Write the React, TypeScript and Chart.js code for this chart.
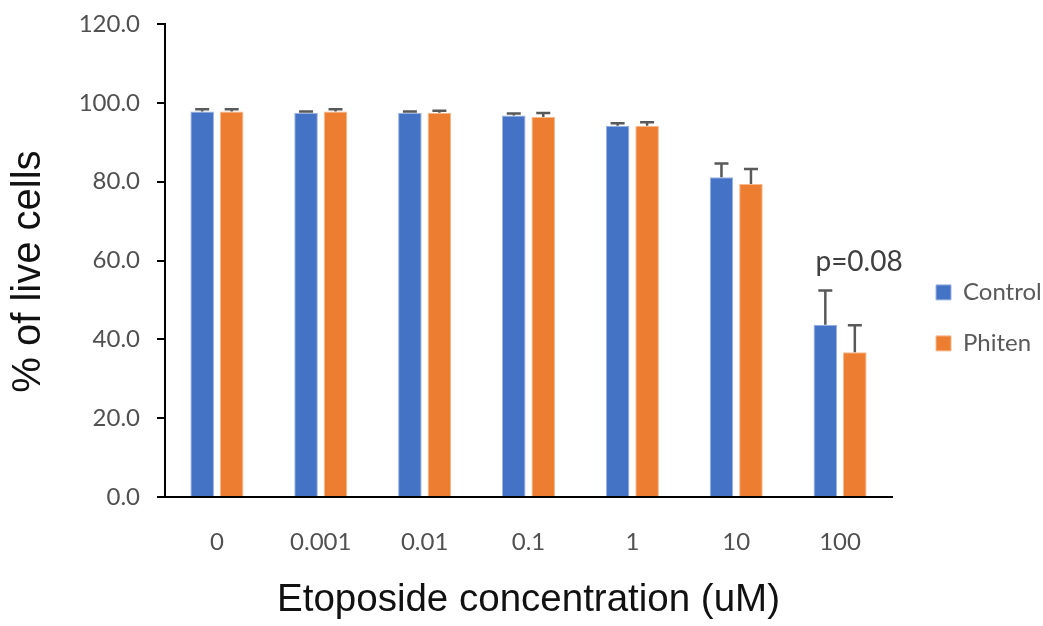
import React, { useEffect, useRef } from 'react';
import { Chart, registerables } from 'chart.js';

Chart.register(...registerables);

const categories = ['0', '0.001', '0.01', '0.1', '1', '10', '100'];
const controlValues = [97.8, 97.5, 97.5, 96.8, 94.2, 81.1, 43.7];
const phitenValues = [97.8, 97.8, 97.5, 96.4, 94.2, 79.4, 36.7];
const controlErrors = [0.6, 0.3, 0.3, 0.5, 0.6, 3.5, 8.7];
const phitenErrors = [0.6, 0.6, 0.5, 1.0, 0.9, 3.8, 6.9];
const seriesNames = ['Control', 'Phiten'];
const yMin = 0;
const yMax = 120;
const yStep = 20;
const pValueText = 'p=0.08';
const pValueCategory = 6;
const pValueLevel = 59.6;

const allErrors = [controlErrors, phitenErrors];

const errorBarPlugin = {
  id: 'errorBars',
  afterDatasetsDraw(chart: any) {
    const ctx = chart.ctx;
    const yScale = chart.scales.y;
    const xScale = chart.scales.x;
    ctx.save();
    chart.data.datasets.forEach((ds: any, di: number) => {
      const meta = chart.getDatasetMeta(di);
      const errs = allErrors[di];
      meta.data.forEach((bar: any, i: number) => {
        const v = ds.data[i] as number;
        const yTop = yScale.getPixelForValue(v + errs[i]);
        const yBase = yScale.getPixelForValue(v);
        const x = bar.x;
        ctx.strokeStyle = '#595959';
        ctx.lineWidth = 2.5;
        ctx.beginPath();
        ctx.moveTo(x, yBase);
        ctx.lineTo(x, yTop);
        ctx.moveTo(x - 7, yTop);
        ctx.lineTo(x + 7, yTop);
        ctx.stroke();
      });
    });
    ctx.font = '28px Lato';
    ctx.fillStyle = '#404040';
    ctx.textAlign = 'center';
    ctx.textBaseline = 'middle';
    ctx.fillText(
      pValueText,
      xScale.getPixelForValue(pValueCategory) + 19,
      yScale.getPixelForValue(pValueLevel)
    );
    ctx.restore();
  },
};

export default function App() {
  const ref = useRef<HTMLCanvasElement>(null);

  useEffect(() => {
    const chart = new Chart(ref.current as HTMLCanvasElement, {
      type: 'bar',
      data: {
        labels: categories,
        datasets: [
          {
            label: seriesNames[0],
            data: controlValues,
            backgroundColor: '#4472C4',
            borderColor: '#9db3e0',
            borderWidth: 1,
            categoryPercentage: 0.568,
            barPercentage: 0.8,
          },
          {
            label: seriesNames[1],
            data: phitenValues,
            backgroundColor: '#ED7D31',
            borderColor: '#f6b98c',
            borderWidth: 1,
            categoryPercentage: 0.568,
            barPercentage: 0.8,
          },
        ],
      },
      options: {
        responsive: false,
        animation: false,
        devicePixelRatio: 1,
        layout: { padding: { top: 24, right: 0, bottom: 0, left: 0 } },
        plugins: {
          tooltip: { enabled: false },
          legend: {
            position: 'right',
            align: 'start',
            maxWidth: 134,
            title: {
              display: true,
              text: '',
              font: { size: 12 },
              padding: { top: 0, bottom: 215 },
            },
            labels: {
              boxWidth: 15,
              boxHeight: 15,
              padding: 27,
              color: '#595959',
              font: { family: 'Lato', size: 24 },
            },
          },
        },
        scales: {
          x: {
            grid: { display: false },
            border: { display: true, color: '#000', width: 2 },
            ticks: {
              color: '#505050',
              font: { family: 'Lato', size: 24 },
              padding: 23,
            },
            title: {
              display: true,
              text: 'Etoposide concentration (uM)',
              color: '#111',
              font: { family: 'Liberation Sans', size: 38.5 },
              padding: { top: 0, bottom: 3 },
            },
            afterFit: (s: any) => {
              s.height = 129;
            },
          },
          y: {
            min: yMin,
            max: yMax,
            ticks: {
              stepSize: yStep,
              color: '#505050',
              font: { family: 'Lato', size: 24 },
              padding: 17,
              callback: (v: any) => Number(v).toFixed(1),
            },
            grid: {
              drawOnChartArea: false,
              drawTicks: true,
              tickLength: 8,
              color: '#000',
              lineWidth: 2,
            },
            border: { display: true, color: '#000', width: 2 },
            title: {
              display: true,
              text: '% of live cells  ',
              color: '#111',
              font: { family: 'Liberation Sans', size: 40 },
              padding: { top: 5, bottom: 0 },
            },
            afterFit: (s: any) => {
              s.width = 165;
              s.paddingTop = 0;
              s.paddingBottom = 0;
            },
          },
          y2: {
            position: 'right',
            display: true,
            grid: { display: false },
            ticks: { display: false },
            border: { display: false },
            afterFit: (s: any) => {
              s.width = 17;
              s.paddingTop = 0;
              s.paddingBottom = 0;
            },
          },
        },
      },
      plugins: [errorBarPlugin],
    } as any);
    return () => chart.destroy();
  }, []);

  return (
    <div
      style={{
        position: 'absolute',
        left: 0,
        top: 0,
        width: 1043,
        height: 626,
        overflow: 'hidden',
        background: '#fff',
      }}
    >
      <canvas ref={ref} width={1043} height={626} style={{ display: 'block' }} />
    </div>
  );
}
